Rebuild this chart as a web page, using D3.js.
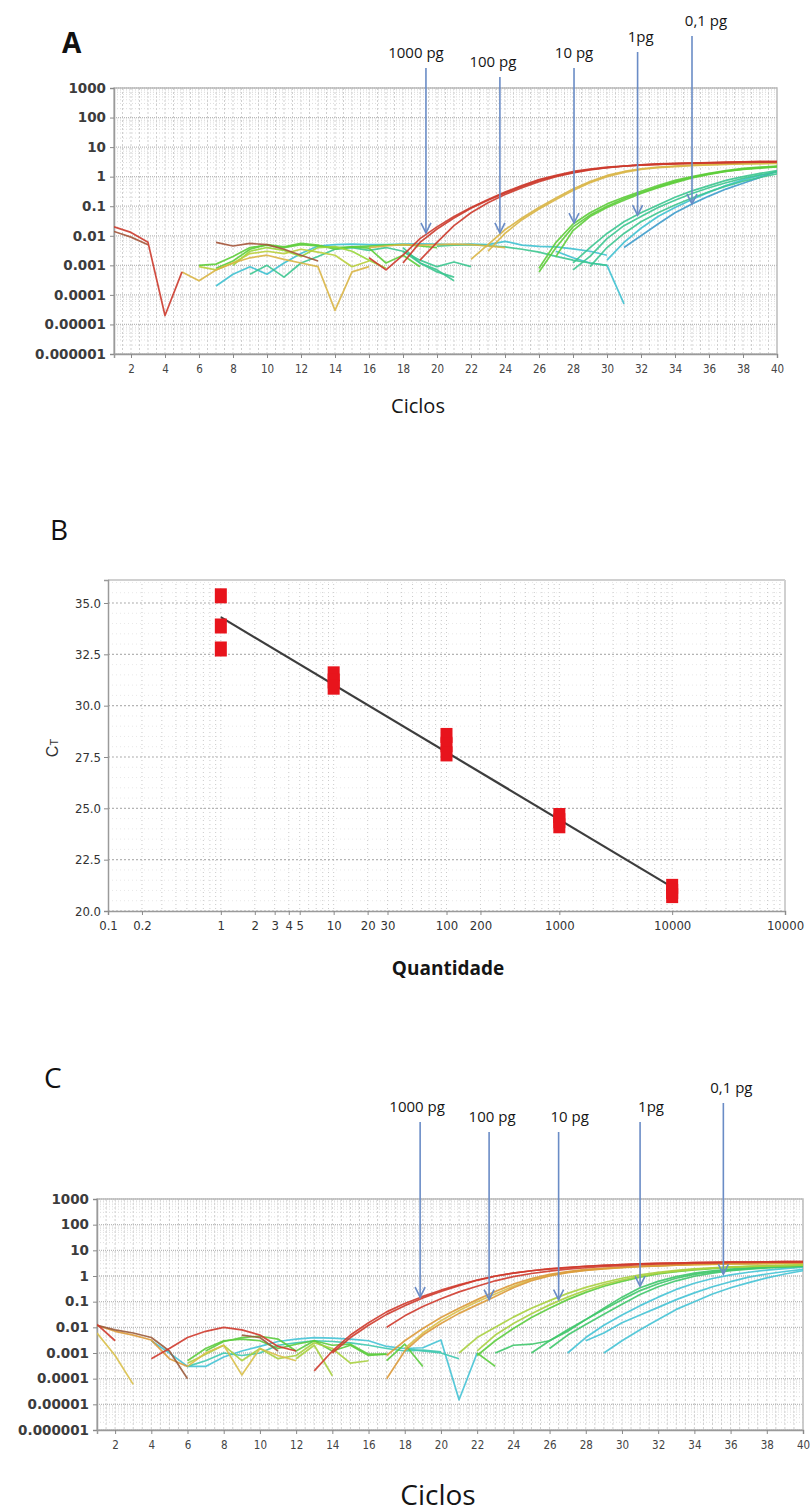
<!DOCTYPE html>
<html lang="pt">
<head>
<meta charset="UTF-8">
<title>qPCR - curvas de amplificação e curva padrão</title>
<style>
  body { margin: 0; background: #fff; }
  svg { display: block; }
  .amp .ytick text { font-family: "DejaVu Sans", "Liberation Sans", Arial, sans-serif; font-weight: bold; font-size: 13.5px; fill: #3c3c3c; }
  .amp .xtick text { font-family: "DejaVu Sans Condensed", "Liberation Sans", Arial, sans-serif; font-size: 11.5px; fill: #444; }
  .std .tick text { font-family: "DejaVu Sans Condensed", "Liberation Sans", Arial, sans-serif; font-size: 13px; fill: #333; }
  .tick line { stroke: #8a8a8a; }
  .domain { stroke: #9a9a9a; stroke-width: 1.5; }
  .ann { font-family: "Open Sans", sans-serif; font-size: 15px; fill: #151515; }
  .panel { font-family: "Open Sans", sans-serif; font-size: 28px; fill: #111; }
  .xtitle { font-family: "Open Sans", sans-serif; fill: #151515; }
</style>
</head>
<body>
<svg id="fig" width="810" height="1512"></svg>
<script src="https://cdnjs.cloudflare.com/ajax/libs/d3/7.8.5/d3.min.js"></script>
<script>
// ---- eixos comuns das curvas de amplificação ----
const ampYTicks = [1e-6, 1e-5, 1e-4, 1e-3, 1e-2, 1e-1, 1, 10, 100, 1000];
const ampYLabels = ["0.000001", "0.00001", "0.0001", "0.001", "0.01", "0.1", "1", "10", "100", "1000"];
const cycleTicks = [2, 4, 6, 8, 10, 12, 14, 16, 18, 20, 22, 24, 26, 28, 30, 32, 34, 36, 38, 40];

// ---- A: ΔRn por ciclo, cada curva = [primeiro ciclo, valores] ----
const aBrown = [
  [1, [0.014, 0.009, 0.005]],
  [7, [0.006, 0.0045, 0.0055, 0.005, 0.0035, 0.0022, 0.0014]]
];
const aRed = [
  [1, [0.02, 0.013, 0.006, 0.00002, 0.0006]],
  [16, [0.0018, 0.0007, 0.0022, 0.008, 0.02, 0.045, 0.09, 0.17, 0.3, 0.5, 0.8, 1.1, 1.5, 1.8, 2.1, 2.3, 2.5, 2.6, 2.7, 2.8, 2.9, 3.0, 3.1, 3.1, 3.2]],
  [19, [0.0015, 0.006, 0.022, 0.06, 0.13, 0.25, 0.42, 0.68, 1.0, 1.35, 1.7, 2.0, 2.3, 2.5, 2.7, 2.8, 2.9, 3.0, 3.1, 3.2, 3.3, 3.3]],
  [18, [0.0012, 0.006, 0.017, 0.04, 0.085, 0.16, 0.28, 0.47, 0.75, 1.05, 1.4, 1.75, 2.0, 2.25, 2.45, 2.6, 2.75, 2.85, 2.95, 3.0, 3.05, 3.1, 3.15]]
];
const aYellow = [
  [5, [0.0006, 0.0003, 0.0007, 0.0012, 0.0018, 0.0022, 0.0016, 0.0012, 0.0009, 0.00003, 0.0006, 0.0009]],
  [16, [0.004, 0.0045, 0.005, 0.0048, 0.005, 0.0052, 0.005, 0.0045, 0.004]],
  [22, [0.0016, 0.005, 0.016, 0.04, 0.09, 0.19, 0.38, 0.68, 1.1, 1.5, 1.85, 2.1, 2.3, 2.45, 2.55, 2.65, 2.75, 2.8, 2.9]],
  [23, [0.003, 0.012, 0.035, 0.08, 0.17, 0.34, 0.62, 1.0, 1.4, 1.75, 2.0, 2.2, 2.35, 2.5, 2.6, 2.7, 2.75, 2.8]]
];
const aYellowGreen = [
  [6, [0.0009, 0.0007, 0.0012, 0.0025, 0.003, 0.0025, 0.0035, 0.0028, 0.0022, 0.0009, 0.0014]]
];
const aGreen = [
  [6, [0.001, 0.0011, 0.002, 0.004, 0.0048, 0.004, 0.005, 0.0045, 0.004, 0.0042, 0.0045, 0.0048, 0.005, 0.0045, 0.004]],
  [7, [0.0008, 0.0014, 0.0035, 0.005, 0.0042, 0.0055, 0.0048, 0.0035, 0.0042, 0.0038, 0.0012, 0.0022, 0.0009]],
  [26, [0.0008, 0.006, 0.025, 0.06, 0.12, 0.2, 0.32, 0.5, 0.75, 1.0, 1.3, 1.6, 1.9, 2.1, 2.3]],
  [26, [0.0006, 0.004, 0.02, 0.05, 0.1, 0.18, 0.29, 0.45, 0.68, 0.95, 1.25, 1.55, 1.8, 2.0, 2.2]],
  [27, [0.002, 0.015, 0.045, 0.09, 0.16, 0.27, 0.42, 0.63, 0.9, 1.2, 1.5, 1.75, 1.95, 2.15]]
];
const aLime = [
  [8, [0.001, 0.003, 0.004, 0.0032, 0.002, 0.004, 0.0043, 0.003, 0.0015, 0.0008]]
];
const aTeal = [
  [9, [0.0005, 0.001, 0.0004, 0.0012, 0.002, 0.0035, 0.004, 0.0032, 0.004, 0.003, 0.0012, 0.0006, 0.0004]],
  [18, [0.004, 0.0012, 0.0007, 0.0003]],
  [18, [0.003, 0.0015, 0.0009, 0.0013, 0.0009]],
  [20, [0.0045, 0.0048, 0.005, 0.0046, 0.0042, 0.0035, 0.0028, 0.002, 0.0015, 0.0012, 0.001]],
  [28, [0.0012, 0.004, 0.012, 0.03, 0.06, 0.11, 0.2, 0.33, 0.5, 0.75, 1.0, 1.3, 1.6]],
  [28, [0.0007, 0.002, 0.008, 0.022, 0.045, 0.09, 0.16, 0.27, 0.42, 0.62, 0.88, 1.15, 1.45]],
  [29, [0.0009, 0.004, 0.012, 0.03, 0.06, 0.11, 0.19, 0.31, 0.48, 0.7, 0.95, 1.25]]
];
const aCyan = [
  [7, [0.0002, 0.0005, 0.0009, 0.0005, 0.0012, 0.0025, 0.0045, 0.005, 0.0052, 0.005, 0.005, 0.0052, 0.0053, 0.0052, 0.005, 0.0052, 0.005, 0.0065, 0.0048, 0.0044, 0.0042, 0.0036, 0.003, 0.0022]],
  [30, [0.0015, 0.006, 0.018, 0.045, 0.09, 0.17, 0.3, 0.5, 0.78, 1.1, 1.5]],
  [27, [0.003, 0.0018, 0.0012, 0.001, 0.00005]]
];
const aBlue = [
  [31, [0.004, 0.01, 0.025, 0.06, 0.12, 0.22, 0.38, 0.6, 0.95, 1.5]]
];
const annLabels = ["1000 pg", "100 pg", "10 pg", "1pg", "0,1 pg"];
const annCycleA = [19.35, 23.7, 28.06, 31.8, 35.0];
const annTipA = [0.0125, 0.0125, 0.027, 0.05, 0.12];

// ---- B: curva padrão ----
const stdQty = [1, 1, 1, 10, 10, 10, 100, 100, 100, 1000, 1000, 1000, 10000, 10000, 10000];
const stdCt = [35.35, 33.88, 32.76, 31.55, 31.2, 30.9, 28.55, 28.1, 27.65, 24.65, 24.4, 24.15, 21.2, 20.95, 20.75];
const stdXTicks = [0.1, 0.2, 1, 2, 3, 4, 5, 10, 20, 30, 100, 200, 1000, 10000, 100000];
const stdXLabels = ["0.1", "0.2", "1", "2", "3", "4", "5", "10", "20", "30", "100", "200", "1000", "10000", "10000"];
const stdYTicks = [20, 22.5, 25, 27.5, 30, 32.5, 35];

// ---- C: ΔRn por ciclo ----
const cBrown = [
  [1, [0.012, 0.008, 0.006, 0.004, 0.0012, 0.0001]],
  [9, [0.005, 0.004, 0.0012]]
];
const cRed = [
  [1, [0.013, 0.003]],
  [4, [0.0006, 0.0015, 0.004, 0.007, 0.01, 0.008, 0.005, 0.0018, 0.0012]],
  [13, [0.0002, 0.0012, 0.005, 0.015, 0.04, 0.085, 0.16, 0.28, 0.45, 0.7, 1.0, 1.3, 1.6, 1.9, 2.1, 2.4, 2.6, 2.8, 3.0, 3.1, 3.2, 3.3, 3.4, 3.45, 3.5, 3.55, 3.6, 3.6]],
  [14, [0.001, 0.004, 0.012, 0.032, 0.07, 0.14, 0.25, 0.42, 0.68, 0.98, 1.3, 1.6, 1.9, 2.15, 2.4, 2.6, 2.8, 3.0, 3.1, 3.2, 3.3, 3.4, 3.45, 3.5, 3.55, 3.6, 3.6]],
  [17, [0.01, 0.028, 0.065, 0.13, 0.24, 0.4, 0.65, 0.95, 1.25, 1.55, 1.85, 2.1, 2.35, 2.55, 2.75, 2.95, 3.05, 3.15, 3.25, 3.35, 3.4, 3.45, 3.5, 3.55]]
];
const cOrange = [
  [1, [0.012, 0.007, 0.005, 0.0032, 0.0006, 0.0003]],
  [17, [0.0001, 0.0012, 0.005, 0.014, 0.035, 0.075, 0.16, 0.35, 0.65, 1.0, 1.35, 1.65, 1.9, 2.1, 2.3, 2.5, 2.65, 2.8, 2.9, 3.0, 3.05, 3.1, 3.15, 3.2]],
  [17, [0.0008, 0.003, 0.009, 0.024, 0.055, 0.12, 0.25, 0.48, 0.8, 1.15, 1.5, 1.8, 2.0, 2.2, 2.4, 2.55, 2.7, 2.8, 2.9, 3.0, 3.05, 3.1, 3.15, 3.2]]
];
const cYellow = [
  [1, [0.006, 0.0008, 0.00006]],
  [6, [0.0003, 0.001, 0.002, 0.00014, 0.0015, 0.0008, 0.0005]],
  [18, [0.0015, 0.006, 0.018, 0.045, 0.1, 0.2, 0.4, 0.72, 1.05, 1.4, 1.7, 1.95, 2.15, 2.35, 2.5, 2.65, 2.75, 2.85, 2.95, 3.0, 3.05, 3.1, 3.15]]
];
const cYellowGreen = [
  [6, [0.0004, 0.0009, 0.002, 0.0005, 0.0015, 0.0006, 0.0008, 0.0025, 0.0015, 0.0004, 0.0005]],
  [12, [0.0006, 0.002, 0.00013]],
  [21, [0.001, 0.004, 0.01, 0.025, 0.055, 0.11, 0.21, 0.36, 0.56, 0.82, 1.1, 1.4, 1.65, 1.9, 2.1, 2.25, 2.4, 2.5, 2.6, 2.7]],
  [22, [0.0012, 0.005, 0.014, 0.034, 0.075, 0.15, 0.28, 0.46, 0.7, 0.98, 1.28, 1.55, 1.8, 2.0, 2.2, 2.35, 2.45, 2.55, 2.65]]
];
const cGreen = [
  [6, [0.0005, 0.0015, 0.003, 0.0035, 0.003, 0.0015, 0.0022, 0.003, 0.0012, 0.002, 0.0008, 0.0009]],
  [7, [0.0012, 0.0028, 0.004, 0.0045, 0.0035, 0.0012, 0.003, 0.002, 0.0022, 0.0009, 0.0009]],
  [17, [0.0005, 0.0022, 0.0003]],
  [22, [0.001, 0.0003]],
  [22, [0.0008, 0.003, 0.009, 0.024, 0.055, 0.12, 0.23, 0.4, 0.62, 0.9, 1.2, 1.48, 1.72, 1.95, 2.15, 2.3, 2.42, 2.52, 2.62]]
];
const cGreen2 = [
  [23, [0.001, 0.002, 0.0022, 0.003, 0.007, 0.02, 0.055, 0.15, 0.35, 0.62, 0.95, 1.3, 1.6, 1.85, 2.05, 2.25, 2.4, 2.5]],
  [25, [0.001, 0.003, 0.008, 0.02, 0.05, 0.12, 0.27, 0.5, 0.82, 1.15, 1.45, 1.72, 1.95, 2.15, 2.3, 2.42]],
  [26, [0.0015, 0.005, 0.013, 0.032, 0.08, 0.19, 0.38, 0.65, 0.98, 1.3, 1.6, 1.85, 2.05, 2.2, 2.35]]
];
const cTeal = [
  [6, [0.0003, 0.0005, 0.001, 0.0008, 0.001, 0.002, 0.0025, 0.003, 0.0028, 0.0025, 0.002, 0.0015, 0.0012, 0.0013, 0.0011]],
  [18, [0.0015, 0.0012, 0.001, 0.0006]]
];
const cCyan = [
  [4, [0.003, 0.001, 0.0003, 0.0003, 0.0007, 0.0012, 0.0018, 0.0028, 0.0035, 0.004, 0.0038, 0.0035, 0.003, 0.0018, 0.0015, 0.0016, 0.0032, 0.000015, 0.001]],
  [27, [0.001, 0.004, 0.012, 0.03, 0.07, 0.15, 0.3, 0.52, 0.8, 1.1, 1.4, 1.7, 1.95, 2.2]],
  [28, [0.003, 0.006, 0.015, 0.03, 0.06, 0.12, 0.22, 0.38, 0.6, 0.9, 1.2, 1.5, 1.8]],
  [29, [0.001, 0.003, 0.008, 0.02, 0.05, 0.1, 0.2, 0.35, 0.55, 0.85, 1.2, 1.6]]
];
const annCycleC = [18.85, 22.66, 26.5, 31.0, 35.6];
const annTipC = [0.15, 0.12, 0.12, 0.4, 1.17];

const svg = d3.select("#fig");

function drawAmp(box, groups, ann) {
  const x = d3.scaleLinear().domain([1, 40]).range([box.left, box.right]);
  const y = d3.scaleLog().domain([1e-6, 1e3]).range([box.bottom, box.top]);
  const g = svg.append("g").attr("class", "amp");

  // grade
  g.append("g").selectAll("line").data(d3.range(1.5, 40, 0.5)).join("line")
    .attr("x1", d => x(d)).attr("x2", d => x(d))
    .attr("y1", box.top).attr("y2", box.bottom)
    .attr("stroke", "#c9c9c9").attr("stroke-width", 0.9).attr("stroke-dasharray", "2,2");
  const minors = [];
  for (let e = -6; e < 3; e++) for (let k = 2; k < 10; k++) minors.push(k * Math.pow(10, e));
  g.append("g").selectAll("line").data(minors).join("line")
    .attr("x1", box.left).attr("x2", box.right)
    .attr("y1", d => y(d)).attr("y2", d => y(d))
    .attr("stroke", "#d6d6d6").attr("stroke-width", 0.8).attr("stroke-dasharray", "1,2");
  g.append("g").selectAll("line").data(ampYTicks).join("line")
    .attr("x1", box.left).attr("x2", box.right)
    .attr("y1", d => y(d)).attr("y2", d => y(d))
    .attr("stroke", "#b9b9b9").attr("stroke-width", 1.3).attr("stroke-dasharray", "1,1");
  g.append("rect")
    .attr("x", box.left).attr("y", box.top)
    .attr("width", box.right - box.left).attr("height", box.bottom - box.top)
    .attr("fill", "none").attr("stroke", "#bcbcbc").attr("stroke-width", 1.5);

  // eixos
  g.append("g").attr("class", "ytick")
    .attr("transform", `translate(${box.left},0)`)
    .call(d3.axisLeft(y).tickValues(ampYTicks).tickSize(4).tickPadding(4)
      .tickFormat((d, i) => ampYLabels[i]));
  g.append("g").attr("class", "xtick")
    .attr("transform", `translate(0,${box.bottom})`)
    .call(d3.axisBottom(x).tickValues(cycleTicks).tickSize(4).tickPadding(7));

  // curvas
  g.append("clipPath").attr("id", box.id)
    .append("rect").attr("x", box.left).attr("y", box.top - 2)
    .attr("width", box.right - box.left).attr("height", box.bottom - box.top + 2);
  const curves = g.append("g").attr("clip-path", `url(#${box.id})`);
  groups.forEach(([series, color]) => {
    series.forEach(([start, vals]) => {
      curves.append("path").datum(vals)
        .attr("d", d3.line().x((d, i) => x(start + i)).y(d => y(d)))
        .attr("fill", "none").attr("stroke", color)
        .attr("stroke-width", 1.7).attr("stroke-linejoin", "round").attr("opacity", 0.9);
    });
  });

  // setas e rótulos
  ann.cycles.forEach((c, i) => {
    const xa = x(c), yt = y(ann.tips[i]), y0 = box.top - ann.lift[i];
    g.append("line").attr("x1", xa).attr("x2", xa).attr("y1", y0).attr("y2", yt)
      .attr("stroke", "#6a8cc6").attr("stroke-width", 1.6);
    g.append("path").attr("d", `M${xa - 5},${yt - 10}L${xa},${yt}L${xa + 5},${yt - 10}`)
      .attr("fill", "none").attr("stroke", "#6a8cc6").attr("stroke-width", 1.6);
    g.append("text").attr("class", "ann")
      .attr("x", xa + ann.dx[i]).attr("y", y0 - 10)
      .attr("text-anchor", "middle").text(annLabels[i]);
  });
  return { x, y };
}

// ---- painel A ----
svg.append("text").attr("class", "panel").attr("x", 62).attr("y", 53)
  .attr("font-weight", "bold").text("A");
drawAmp({ id: "clipA", left: 114, right: 777, top: 88, bottom: 354 },
  [[aCyan, "#3fc1d0"], [aBlue, "#3e9ccb"], [aTeal, "#3cc690"], [aGreen, "#5dcd3a"],
   [aLime, "#97d63a"], [aYellowGreen, "#b9cf3c"], [aYellow, "#d9b545"],
   [aBrown, "#a4553a"], [aRed, "#cc3a2c"]],
  { cycles: annCycleA, tips: annTipA, lift: [20, 11, 20, 36, 52], dx: [-10, -7, 0, 3, 14] });
svg.append("text").attr("class", "xtitle").attr("x", 418).attr("y", 413)
  .attr("text-anchor", "middle").attr("font-size", 20).text("Ciclos");

// ---- painel B ----
(function () {
  const box = { left: 108, right: 785, top: 580, bottom: 911 };
  const x = d3.scaleLog().domain([0.1, 100000]).range([box.left, box.right]);
  const y = d3.scaleLinear().domain([20, 36.12]).range([box.bottom, box.top]);
  const g = svg.append("g").attr("class", "std");

  svg.append("text").attr("class", "panel").attr("x", 50).attr("y", 540).text("B");

  const vMinor = [];
  for (let e = -1; e < 5; e++) for (let k = 1; k < 10; k++) vMinor.push(k * Math.pow(10, e));
  g.append("g").selectAll("line").data(vMinor.filter(d => d > 0.1)).join("line")
    .attr("x1", d => x(d)).attr("x2", d => x(d))
    .attr("y1", box.top).attr("y2", box.bottom)
    .attr("stroke", "#c4c4c4").attr("stroke-width", 0.9).attr("stroke-dasharray", "1,3");
  g.append("g").selectAll("line").data(d3.range(20.5, 36.1, 0.5)).join("line")
    .attr("x1", box.left).attr("x2", box.right)
    .attr("y1", d => y(d)).attr("y2", d => y(d))
    .attr("stroke", "#e2e2e2").attr("stroke-width", 0.8).attr("stroke-dasharray", "1,3");
  g.append("g").selectAll("line").data(stdYTicks).join("line")
    .attr("x1", box.left).attr("x2", box.right)
    .attr("y1", d => y(d)).attr("y2", d => y(d))
    .attr("stroke", "#b4b4b4").attr("stroke-width", 1.1).attr("stroke-dasharray", "2,2");
  g.append("line").attr("x1", box.left).attr("x2", box.right).attr("y1", box.top).attr("y2", box.top)
    .attr("stroke", "#d0d0d0").attr("stroke-width", 2);
  g.append("line").attr("x1", box.right).attr("x2", box.right).attr("y1", box.top).attr("y2", box.bottom)
    .attr("stroke", "#d0d0d0").attr("stroke-width", 2);

  g.append("g").attr("transform", `translate(${box.left},0)`)
    .call(d3.axisLeft(y).tickValues(stdYTicks).tickSize(4).tickPadding(3).tickFormat(d3.format(".1f")));
  g.append("g").attr("transform", `translate(0,${box.bottom})`)
    .call(d3.axisBottom(x).tickValues(stdXTicks).tickSize(4).tickPadding(6)
      .tickFormat((d, i) => stdXLabels[i]));

  // regressão linear Ct ~ log10(quantidade)
  const lx = stdQty.map(Math.log10);
  const mx = d3.mean(lx), my = d3.mean(stdCt);
  const slope = d3.sum(lx, (v, i) => (v - mx) * (stdCt[i] - my)) / d3.sum(lx, v => (v - mx) ** 2);
  const icpt = my - slope * mx;
  const ends = d3.extent(stdQty);
  g.append("path").datum(ends)
    .attr("d", d3.line().x(d => x(d)).y(d => y(icpt + slope * Math.log10(d))))
    .attr("stroke", "#3d3d3d").attr("stroke-width", 2.2).attr("fill", "none");

  g.append("g").selectAll("rect").data(stdQty).join("rect")
    .attr("x", d => x(d) - 6).attr("y", (d, i) => y(stdCt[i]) - 7.5)
    .attr("width", 12).attr("height", 15)
    .attr("fill", "#e8141c");

  const yl = svg.append("text").attr("transform", "translate(58,748) rotate(-90)")
    .attr("text-anchor", "middle").attr("font-family", "Liberation Sans, Arial, sans-serif")
    .attr("font-size", 16).attr("fill", "#333");
  yl.append("tspan").text("C");
  yl.append("tspan").attr("font-size", 11).text("T");

  svg.append("text").attr("class", "xtitle").attr("x", 448).attr("y", 975)
    .attr("text-anchor", "middle").attr("font-size", 19).attr("font-weight", "bold")
    .text("Quantidade");
})();

// ---- painel C ----
svg.append("text").attr("class", "panel").attr("x", 44).attr("y", 1088).text("C");
drawAmp({ id: "clipC", left: 97, right: 803, top: 1199, bottom: 1430 },
  [[cCyan, "#45c3d5"], [cTeal, "#3fc9b0"], [cGreen2, "#3fc76a"], [cGreen, "#5ccc3e"],
   [cYellowGreen, "#a8d040"], [cYellow, "#d9c04a"], [cOrange, "#dc9a3a"],
   [cBrown, "#9a5b3c"], [cRed, "#cf3b2e"]],
  { cycles: annCycleC, tips: annTipC, lift: [77, 67, 67, 77, 96], dx: [-3, 3, 11, 11, 8] });
svg.append("text").attr("class", "xtitle").attr("x", 438).attr("y", 1505)
  .attr("text-anchor", "middle").attr("font-size", 28).text("Ciclos");
</script>
</body>
</html>
